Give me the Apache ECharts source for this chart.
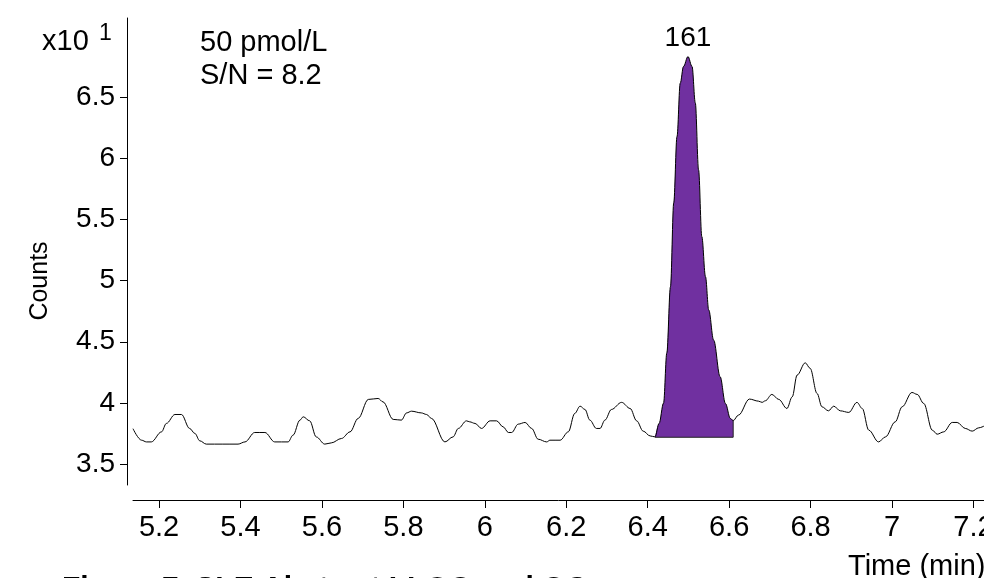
<!DOCTYPE html>
<html>
<head>
<meta charset="utf-8">
<title>Chromatogram</title>
<script src="https://cdn.jsdelivr.net/npm/echarts@6/dist/echarts.min.js"></script>
<style>
  html, body { margin: 0; padding: 0; background: #fff; }
  #main { width: 984px; height: 578px; }
</style>
</head>
<body>
<div id="main"></div>
<script>
// retention time (min) and counts (x10^1)
var traceTime = [
  5.136, 5.157, 5.169, 5.181, 5.206, 5.218, 5.239, 5.255, 5.275, 5.288,
  5.300, 5.316, 5.394, 5.411, 5.435, 5.460, 5.484, 5.517, 5.529, 5.546,
  5.554, 5.570, 5.586, 5.607, 5.623, 5.648, 5.669, 5.689, 5.714, 5.738,
  5.750, 5.775, 5.795, 5.808, 5.820, 5.844, 5.857, 5.869, 5.902, 5.922,
  5.935, 5.955, 5.963, 5.976, 5.992, 6.013, 6.029, 6.045, 6.058, 6.066,
  6.082, 6.099, 6.115, 6.131, 6.152, 6.160, 6.185, 6.205, 6.221, 6.234,
  6.246, 6.258, 6.274, 6.283, 6.295, 6.311, 6.336, 6.357, 6.373, 6.389,
  6.406, 6.418, 6.428, 6.439, 6.447, 6.456, 6.464, 6.472, 6.480, 6.488,
  6.499, 6.509, 6.517, 6.525, 6.533, 6.542, 6.550, 6.562, 6.578, 6.591,
  6.603, 6.610, 6.623, 6.650, 6.672, 6.681, 6.689, 6.705, 6.722, 6.742,
  6.755, 6.767, 6.787, 6.799, 6.816, 6.828, 6.844, 6.857, 6.873, 6.894,
  6.914, 6.927, 6.943, 6.967, 6.984, 7.008, 7.025, 7.049, 7.062, 7.078,
  7.099, 7.111, 7.127, 7.148, 7.160, 7.180, 7.197, 7.213, 7.226
];
var traceCounts = [
  3.790, 3.696, 3.682, 3.682, 3.764, 3.833, 3.906, 3.906, 3.792, 3.751,
  3.691, 3.664, 3.664, 3.682, 3.759, 3.759, 3.682, 3.682, 3.737, 3.860,
  3.887, 3.854, 3.723, 3.664, 3.674, 3.710, 3.764, 3.874, 4.029, 4.037,
  4.009, 3.866, 3.860, 3.919, 3.933, 3.919, 3.906, 3.874, 3.682, 3.723,
  3.792, 3.854, 3.846, 3.833, 3.792, 3.854, 3.854, 3.805, 3.759, 3.759,
  3.827, 3.841, 3.792, 3.704, 3.682, 3.696, 3.696, 3.764, 3.915, 3.974,
  3.947, 3.860, 3.792, 3.792, 3.860, 3.947, 4.005, 3.955, 3.854, 3.770,
  3.731, 3.723, 3.833, 3.999, 4.408, 4.950, 5.634, 6.176, 6.613, 6.749,
  6.830, 6.749, 6.452, 5.904, 5.359, 5.032, 4.759, 4.514, 4.214, 3.996,
  3.874, 3.856, 3.901, 4.032, 4.015, 4.005, 4.018, 4.070, 4.029, 3.955,
  4.050, 4.228, 4.328, 4.283, 4.078, 3.969, 3.936, 3.974, 3.936, 3.923,
  4.005, 3.955, 3.778, 3.682, 3.723, 3.846, 3.969, 4.086, 4.070, 3.996,
  3.778, 3.745, 3.764, 3.841, 3.841, 3.792, 3.770, 3.797, 3.811
];

// integrated peak
var peakStart = 6.418;
var peakEnd = 6.610;
var peakBase = 3.72;
var peakLabel = '161';

var xTicks = [5.2, 5.4, 5.6, 5.8, 6, 6.2, 6.4, 6.6, 6.8, 7, 7.2];
var yTicks = [3.5, 4, 4.5, 5, 5.5, 6, 6.5];

var FONT = 'Liberation Sans, Arial, sans-serif';
var chart = echarts.init(document.getElementById('main'));

var trace = traceTime.map(function (t, i) { return [t, traceCounts[i]]; });
var peakPts = trace.filter(function (p) { return p[0] >= peakStart && p[0] <= peakEnd; });
var apex = peakPts.reduce(function (a, p) { return p[1] > a[1] ? p : a; }, peakPts[0]);
var peakEdge = [[peakStart, peakBase], [peakEnd, peakBase], peakPts[peakPts.length - 1]];

var option = {
  animation: false,
  backgroundColor: '#fff',
  grid: { left: 133, right: 0, top: 18, bottom: 93, outerBoundsMode: 'none', containLabel: false },
  xAxis: {
    type: 'value',
    min: 5.136,
    max: 7.226,
    offset: 15,
    axisLine: { onZero: false, lineStyle: { color: '#000', width: 1 } },
    axisTick: { customValues: xTicks, length: 8, lineStyle: { color: '#000' } },
    axisLabel: {
      customValues: xTicks, margin: 13, color: '#000', fontSize: 29, fontFamily: FONT,
      hideOverlap: false
    },
    splitLine: { show: false }
  },
  yAxis: {
    type: 'value',
    min: 3.33,
    max: 7.145,
    offset: 6,
    axisLine: { show: true, onZero: false, lineStyle: { color: '#000', width: 1 } },
    axisTick: { customValues: yTicks, length: 7, lineStyle: { color: '#000' } },
    axisLabel: {
      customValues: yTicks, margin: 12, color: '#000', fontSize: 28, fontFamily: FONT
    },
    splitLine: { show: false }
  },
  series: [
    {
      type: 'line',
      data: peakPts,
      smooth: 0.35,
      smoothMonotone: 'x',
      showSymbol: false,
      symbol: 'none',
      lineStyle: { width: 0 },
      areaStyle: { origin: peakBase, color: '#7030a0', opacity: 1 },
      z: 2
    },
    {
      type: 'line',
      data: peakEdge,
      showSymbol: false,
      symbol: 'none',
      lineStyle: { color: '#222', width: 1 },
      z: 3
    },
    {
      type: 'line',
      data: trace,
      smooth: 0.35,
      smoothMonotone: 'x',
      showSymbol: false,
      symbol: 'none',
      lineStyle: { color: '#000', width: 1 },
      z: 4
    },
    {
      // peak apex label
      type: 'scatter',
      data: [apex],
      symbolSize: 0.01,
      itemStyle: { color: '#000', opacity: 1 },
      label: {
        show: true, position: 'top', distance: 4, formatter: peakLabel,
        color: '#000', opacity: 1, fontSize: 28, fontFamily: FONT
      },
      z: 5
    }
  ],
  graphic: [
    { type: 'text', left: 42, top: 27, style: { text: 'x10', fill: '#000', font: '29px ' + FONT } },
    { type: 'text', left: 99, top: 22, style: { text: '1', fill: '#000', font: '23px ' + FONT } },
    { type: 'text', left: 200, top: 28, style: { text: '50 pmol/L', fill: '#000', font: '29px ' + FONT } },
    { type: 'text', left: 200, top: 61, style: { text: 'S/N = 8.2', fill: '#000', font: '29px ' + FONT } },
    {
      type: 'text', x: 40, y: 281, rotation: Math.PI / 2,
      style: { text: 'Counts', fill: '#000', font: '25px ' + FONT, align: 'center', verticalAlign: 'middle' }
    },
    { type: 'text', left: 848, top: 552, style: { text: 'Time (min)', fill: '#000', font: '29px ' + FONT } },
    { type: 'text', left: 62, top: 574, style: { text: 'Figure 7. SLE Abeta at LLOQ and QC', fill: '#000', font: 'bold 30px ' + FONT } }
  ]
};

chart.setOption(option);
</script>
</body>
</html>
